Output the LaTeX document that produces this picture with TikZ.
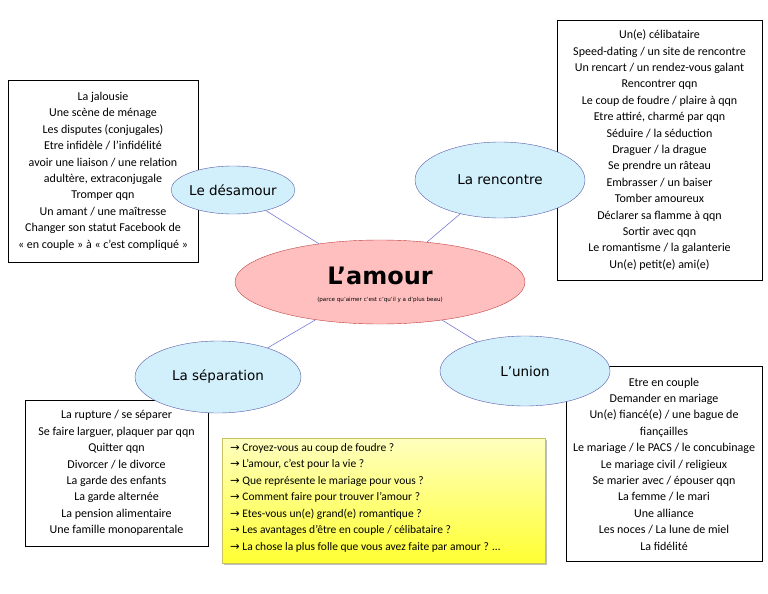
\documentclass[tikz,border=0pt]{standalone}
\usepackage{fontspec}
\setmainfont{Carlito}
\newfontfamily\titlefont{DejaVu Sans}
\usetikzlibrary{shapes.geometric,shadows}
\begin{document}
\begin{tikzpicture}[x=1pt,y=-1pt,
  bubble/.style={ellipse,draw=blue!30!gray,fill=cyan!18,inner sep=0pt,font=\titlefont\fontsize{13.5}{16}\selectfont},
  listbox/.style={draw=black,thick,fill=white,align=center,font=\fontsize{12}{16.4}\selectfont,inner sep=0pt},
  link/.style={draw=blue!50!gray!70,line width=0.6pt}]
\useasboundingbox (0,0) rectangle (768,594);
\node[listbox,minimum width=190,minimum height=182] (b1) at (103,171) {La jalousie\\Une scène de ménage\\Les disputes (conjugales)\\Etre infidèle / l’infidélité\\avoir une liaison / une relation\\adultère, extraconjugale\\Tromper qqn\\Un amant / une maîtresse\\Changer son statut Facebook de\\« en couple » à « c’est compliqué »};
\node[listbox,minimum width=205,minimum height=260] (b2) at (659.5,150) {Un(e) célibataire\\Speed-dating / un site de rencontre\\Un rencart / un rendez-vous galant\\Rencontrer qqn\\Le coup de foudre / plaire à qqn\\Etre attiré, charmé par qqn\\Séduire / la séduction\\Draguer / la drague\\Se prendre un râteau\\Embrasser / un baiser\\Tomber amoureux\\Déclarer sa flamme à qqn\\Sortir avec qqn\\Le romantisme / la galanterie\\Un(e) petit(e) ami(e)};
\node[listbox,minimum width=183,minimum height=146] (b3) at (116.5,473) {La rupture / se séparer\\Se faire larguer, plaquer par qqn\\Quitter qqn\\Divorcer / le divorce\\La garde des enfants\\La garde alternée\\La pension alimentaire\\Une famille monoparentale};
\node[listbox,minimum width=196,minimum height=195] (b4) at (664,464) {Etre en couple\\Demander en mariage\\Un(e) fiancé(e) / une bague de\\fiançailles\\Le mariage / le PACS / le concubinage\\Le mariage civil / religieux\\Se marier avec / épouser qqn\\La femme / le mari\\Une alliance\\Les noces / La lune de miel\\La fidélité};
\node[ellipse,draw=red!50!gray,fill=red!25,minimum width=290,minimum height=84,inner sep=0pt] (c) at (380,282) {};
\node at (380,276) {\titlefont\bfseries\fontsize{24}{28}\selectfont L’amour};
\node at (380,300) {\titlefont\fontsize{5.6}{6}\selectfont (parce qu’aimer c’est c’qu’il y a d’plus beau)};
\node[bubble,minimum width=120,minimum height=48] (d) at (233,190) {Le désamour};
\node[bubble,minimum width=170,minimum height=76] (r) at (500,180) {La rencontre};
\node[bubble,minimum width=166,minimum height=72] (s) at (218,377) {La séparation};
\node[bubble,minimum width=170,minimum height=70] (u) at (525,371) {L’union};
\draw[link] (c) -- (d); \draw[link] (c) -- (r); \draw[link] (c) -- (s); \draw[link] (c) -- (u);
\shade[top color=yellow!25,bottom color=yellow!80,drop shadow] (222,438) rectangle (545,563);
\draw[yellow!50!gray] (222,438) rectangle (545,563);
\node[align=left,anchor=north west,font=\fontsize{11.5}{16.5}\selectfont,inner sep=0pt] (q) at (230,443) {{\titlefont→} Croyez-vous au coup de foudre ?\\{\titlefont→} L’amour, c’est pour la vie ?\\{\titlefont→} Que représente le mariage pour vous ?\\{\titlefont→} Comment faire pour trouver l’amour ?\\{\titlefont→} Etes-vous un(e) grand(e) romantique ?\\{\titlefont→} Les avantages d’être en couple / célibataire ?\\{\titlefont→} La chose la plus folle que vous avez faite par amour ? …};
\end{tikzpicture}
\end{document}
